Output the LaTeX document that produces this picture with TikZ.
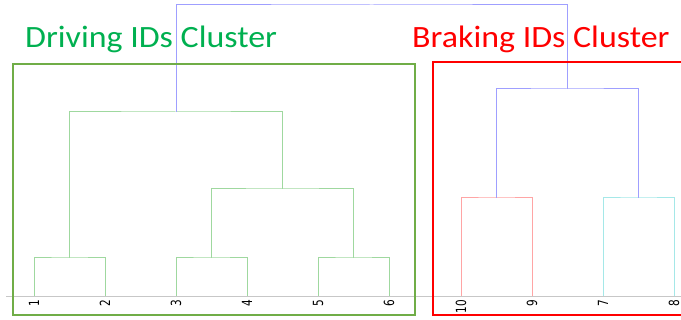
\documentclass[tikz,border=0pt]{standalone}
\usepackage{fontspec}
\setmainfont{Carlito}
\newfontfamily\labfont{DejaVu Sans}
\definecolor{dgreen}{HTML}{9FD89F}
\definecolor{dblue}{HTML}{9F9FFF}
\definecolor{dred}{HTML}{FFA5A5}
\definecolor{dcyan}{HTML}{A5E8E8}
\definecolor{boxgreen}{HTML}{70AD47}
\definecolor{txtgreen}{HTML}{00B050}
\begin{document}
\begin{tikzpicture}[x=1pt,y=-1pt,
  link/.style={line width=1pt},
  gl/.style={link,draw=dgreen},
  bl/.style={link,draw=dblue},
  rl/.style={link,draw=dred},
  cl/.style={link,draw=dcyan},
  leaflab/.style={inner sep=0pt,rotate=90,anchor=east,font=\labfont},
  clbox/.style={line width=2pt},
  cltitle/.style={font=\fontsize{31}{31}\selectfont,inner sep=0pt,anchor=base west}]
\useasboundingbox (0,0) rectangle (681,320);
% axis
\coordinate (axL) at (6,296);
\coordinate (axR) at (681,296);
\draw[line width=0.8pt,draw=black!22] (axL) -- (axR);
% leaves
\foreach \n/\x in {1/34,2/105,3/176,4/247,5/318,6/389,10/461,9/532,7/603,8/674}{
  \coordinate (p\n) at (\x,296);
  \node[leaflab] (l\n) at (\x,299.5) {\scalebox{0.75}[1]{\fontsize{14}{14}\selectfont \n}};
}
% merge points
\coordinate (m12) at (69.5,258);
\coordinate (m34) at (211.5,258);
\coordinate (m56) at (353.5,258);
\coordinate (m3456) at (282.5,189);
\coordinate (mdrv) at (176,112);
\coordinate (m109) at (496.5,198);
\coordinate (m78) at (638.5,198);
\coordinate (mbrk) at (567.25,89);
\coordinate (root) at (371.6,5);
% links
\draw[gl] (p1) |- (m12) -| (p2);
\draw[gl] (p3) |- (m34) -| (p4);
\draw[gl] (p5) |- (m56) -| (p6);
\draw[gl] (m34) |- (m3456) -| (m56);
\draw[gl] (m12) |- (mdrv) -| (m3456);
\draw[rl] (p10) |- (m109) -| (p9);
\draw[cl] (p7) |- (m78) -| (p8);
\draw[bl] (m109) |- (mbrk) -| (m78);
\draw[bl] (mdrv) |- (root) -| (mbrk);
% cluster boxes
\draw[clbox,draw=boxgreen] (13,64) rectangle (415,315);
\draw[clbox,draw=red] (433,62) rectangle (684,315);
% titles
\node[cltitle,text=txtgreen] (tdrv) at (25,47.5) {\scalebox{1.095}[1]{Driving IDs Cluster}};
\node[cltitle,text=red] (tbrk) at (412,47.5) {\scalebox{1.095}[1]{Braking IDs Cluster}};
\end{tikzpicture}
\end{document}
